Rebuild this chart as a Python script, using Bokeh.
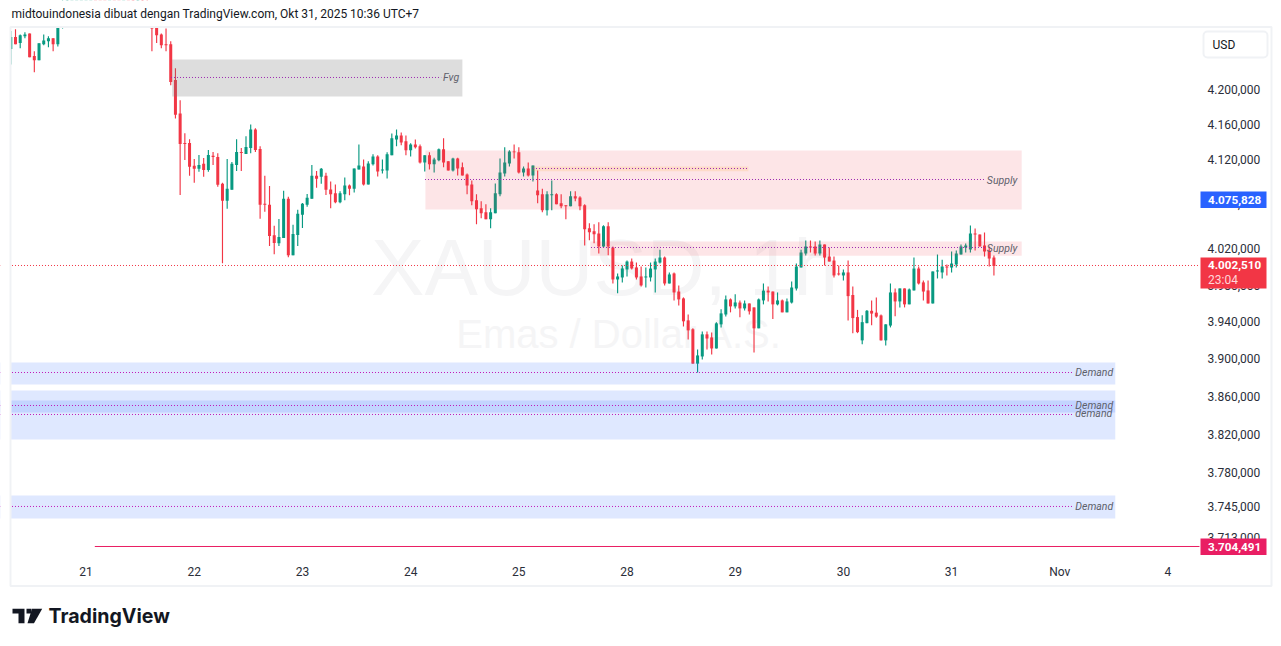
from bokeh.embed import file_html
from bokeh.models import (BoxAnnotation, ColumnDataSource, FixedTicker, Label,
                          PolyAnnotation, Range1d)
from bokeh.plotting import figure
from bokeh.resources import INLINE

# ---- candle data (1h XAUUSD) ----
opens = [
    4247, 4261, 4254, 4262, 4265, 4238.7, 4234, 4252.6, 4256, 4259.6,
    4252.6, 4285, 4300, 4315, 4330, 4338, 4345, 4358, 4365, 4360,
    4350, 4340, 4345, 4335, 4325, 4330, 4318, 4310, 4315, 4300,
    4292, 4285, 4264, 4252.6, 4252.6, 4210.8, 4172.4, 4138.5, 4138.5, 4112.7,
    4109.3, 4115, 4108, 4124, 4122.8, 4092.5, 4073.4, 4085.8, 4113.8, 4128.4,
    4126, 4133, 4154, 4131.8, 4070, 4069, 4035, 4026, 4032, 4075.7,
    4012.8, 4035.3, 4057.7, 4069, 4075.7, 4101.5, 4100.3, 4101.5, 4086, 4081.7,
    4071.7, 4080.6, 4090.6, 4087, 4108.7, 4112, 4091.7, 4114.4, 4123.4, 4107.5,
    4107.5, 4124.6, 4142.7, 4147.3, 4140.5, 4130.3, 4137, 4134.8, 4116.6, 4124.6,
    4114.4, 4118.9, 4131.4, 4117.8, 4107.5, 4121, 4111, 4103, 4091.7, 4073.9,
    4065, 4060.5, 4052.7, 4059.4, 4080.6, 4104, 4115.5, 4129, 4128, 4105.3,
    4109.8, 4101.9, 4085, 4080.6, 4062.7, 4079.5, 4080.6, 4070.6, 4068.3, 4067.2,
    4078.4, 4077.2, 4068.3, 4042.7, 4039.3, 4037, 4022.6, 4045, 4021.5, 3986.2,
    3988.4, 3997.2, 4005.9, 3999.4, 3989.5, 3988.4, 3988.4, 3997.2, 4004.8, 4010.3,
    3981.8, 3992.8, 3973, 3965.5, 3941.6, 3932, 3895, 3902.7, 3926.5, 3923.2,
    3911.3, 3937.3, 3948, 3964.4, 3956.8, 3961, 3954.6, 3960, 3955.7, 3933,
    3963.3, 3974, 3973, 3959, 3963.3, 3950.3, 3961, 3976.3, 3999.4, 4014.8,
    4022.5, 4022.5, 4014.7, 4024.7, 4011.4, 4007, 3992.8, 3990.6, 3993.9, 3969.2,
    3945.2, 3920, 3938.6, 3952, 3950, 3947, 3920, 3936, 3972, 3962.2,
    3976.4, 3959, 3974.2, 3998.2, 3983, 3974.2, 3960, 3995, 3993.9, 4000.4,
    3999.3, 4002.6, 4013.6, 4021.4, 4019.2, 4036.9, 4035.8, 4023.6, 4018, 4010.3,
]
highs = [
    4268, 4270, 4264, 4266.6, 4265, 4244.5, 4253.8, 4264, 4262, 4259.6,
    4295, 4310, 4320, 4335, 4345, 4352, 4362, 4372, 4381, 4368,
    4358, 4350, 4352, 4342, 4335, 4338, 4325, 4320, 4320, 4308,
    4300, 4295, 4265, 4271, 4256, 4224.7, 4187.5, 4149.7, 4143, 4120.5,
    4125, 4121.7, 4130.6, 4128.4, 4127, 4093.6, 4120.5, 4117, 4143, 4133,
    4146.3, 4159.8, 4155.3, 4135, 4101.5, 4090, 4045.4, 4053, 4084.6, 4078,
    4046.5, 4063.3, 4071, 4081, 4113.8, 4107, 4110.4, 4104.8, 4095, 4091.7,
    4084, 4099.6, 4091.7, 4109.8, 4137, 4120, 4117.8, 4125.7, 4124.6, 4120,
    4128, 4149.5, 4154, 4150.7, 4147.3, 4138.2, 4142.7, 4137, 4124.6, 4128,
    4122, 4132.5, 4143.9, 4117.8, 4122, 4122, 4116.6, 4104, 4096.2, 4080.6,
    4072.8, 4069.4, 4065, 4092.9, 4121, 4133.7, 4130.3, 4137, 4133.7, 4112,
    4116.6, 4113, 4107.5, 4087, 4084, 4096.2, 4081.7, 4080.6, 4068.3, 4084,
    4084, 4078.4, 4069.4, 4048.3, 4047.1, 4049.4, 4046, 4049.4, 4022.6, 3992.8,
    4001.5, 4007, 4009.2, 4004.8, 4000.5, 3999.3, 4004.8, 4009.2, 4019, 4011.4,
    3993.9, 3993.9, 3979.6, 3966.6, 3948, 3933, 3910.2, 3929.7, 3929.7, 3928.6,
    3939.5, 3953.6, 3968.8, 3965.5, 3970, 3963.3, 3963.3, 3960, 3955.7, 3965.5,
    3981.8, 3978.5, 3973, 3972, 3964.4, 3965.5, 3983.9, 4003.7, 4019, 4029.2,
    4029.2, 4028, 4029.1, 4024.7, 4021.4, 4011.4, 4001.5, 3997.1, 4007, 3978.6,
    3953, 3947.3, 3953, 3963.3, 3966.6, 3948, 3937.3, 3981.8, 3976.4, 3976.4,
    3976.4, 3976.4, 4010.3, 4000.4, 3985.1, 3985.1, 3995, 4013.6, 4008, 4002.6,
    4017, 4018, 4024.7, 4025.8, 4045.8, 4042.5, 4035.8, 4038, 4022.5, 4012.5,
]
lows = [
    4229, 4252.6, 4248, 4259.6, 4237.5, 4220, 4234, 4251.5, 4249, 4244.5,
    4250, 4271, 4290, 4310, 4322, 4330, 4340, 4350, 4355, 4345,
    4335, 4325, 4330, 4318, 4310, 4312, 4300, 4295, 4290, 4280,
    4244.5, 4254, 4248, 4244.5, 4205, 4166.6, 4080, 4119.4, 4101.5, 4093.6,
    4106, 4100.3, 4106, 4113.8, 4089, 4003.9, 4064.4, 4085.8, 4107, 4107,
    4126, 4127, 4128.4, 4053.2, 4061, 4023, 4014, 4023, 4032, 4010.6,
    4012.8, 4023, 4043, 4066.7, 4075.7, 4088, 4092.5, 4080, 4065, 4070.6,
    4070.6, 4074, 4079.5, 4082.8, 4108.7, 4090.6, 4091.7, 4113, 4100.7, 4104,
    4098.5, 4124.6, 4134.8, 4136, 4124.6, 4123.4, 4132.5, 4115.5, 4106.4, 4108.7,
    4105.3, 4117.8, 4111, 4107.5, 4106.4, 4101.9, 4101.9, 4080.6, 4068.3, 4047.2,
    4053.8, 4052.7, 4042.7, 4059.4, 4078.4, 4100.7, 4112, 4121, 4104, 4100.7,
    4100.7, 4095, 4070.6, 4060.5, 4057, 4062.7, 4069.4, 4065, 4052.7, 4067.2,
    4072.8, 4062.7, 4023.7, 4029.3, 4026, 4014.8, 4021.5, 4012.7, 3981.9, 3971,
    3983, 3989.5, 3997.2, 3986.2, 3978.5, 3977.4, 3984, 3972, 4003.7, 3979.6,
    3981.8, 3963.3, 3957.9, 3935, 3921, 3895, 3885.4, 3899.5, 3910.2, 3904.8,
    3911.3, 3934, 3945.8, 3950.3, 3954.6, 3944.9, 3952.4, 3948, 3907, 3933,
    3959, 3962.2, 3943, 3957.9, 3950.3, 3950.3, 3960, 3974, 3999.4, 4012.5,
    4015.9, 4012.5, 4012.5, 4001.5, 4005.9, 3988.4, 3990.6, 3985.1, 3941.6, 3927.8,
    3927.8, 3915.7, 3938.6, 3936.4, 3944.5, 3920, 3914.6, 3934, 3946, 3955.7,
    3955.7, 3959, 3974.2, 3980.7, 3963.3, 3960, 3960, 3987.3, 3987.3, 3990.6,
    3993.9, 3999.3, 4013.6, 4015.8, 4015.8, 4018, 4022.5, 4011.4, 4000.4, 3990.6,
]
closes = [
    4261, 4252.6, 4263, 4264, 4237.5, 4234, 4253.8, 4257, 4259.6, 4252.6,
    4290, 4300, 4315, 4330, 4338, 4345, 4358, 4365, 4360, 4350,
    4340, 4345, 4335, 4325, 4330, 4318, 4310, 4315, 4300, 4292,
    4271, 4263, 4251.5, 4251.5, 4208.5, 4171, 4137.4, 4137.4, 4111.6, 4109.3,
    4113.8, 4108, 4125, 4122.8, 4091.4, 4073.4, 4087, 4115, 4128.4, 4127.3,
    4134, 4154, 4130.6, 4069, 4069, 4034, 4026.3, 4033, 4075.7, 4012.8,
    4036.4, 4058.8, 4070, 4076.8, 4101.5, 4098, 4109.3, 4085.8, 4080.6, 4071.7,
    4081.7, 4090.6, 4087, 4109.8, 4113, 4091.7, 4115.5, 4123.4, 4106.4, 4108.7,
    4125.7, 4143.9, 4147.3, 4139.3, 4130.3, 4137, 4133.7, 4116.6, 4124.6, 4114.4,
    4120, 4131.4, 4116.6, 4107.5, 4121, 4109.8, 4101.9, 4090.6, 4072.8, 4063.9,
    4059.4, 4052.7, 4060.5, 4081.7, 4105.3, 4116.6, 4129, 4128, 4105.3, 4109.8,
    4101.9, 4113, 4079.5, 4062.7, 4080.6, 4080.6, 4069.4, 4067.2, 4067.2, 4078.4,
    4076, 4067.2, 4041.5, 4038.2, 4036, 4022.6, 4045, 4022.6, 3986.2, 3989.5,
    3998.3, 4005.9, 3998.3, 3988.4, 3979.7, 3989.5, 3998.2, 4005.9, 4010.3, 3981.8,
    3991.7, 3972, 3964.4, 3940.6, 3930.8, 3895, 3903.8, 3926.5, 3922, 3911.3,
    3938.4, 3949.2, 3964.4, 3956.8, 3961.1, 3954.6, 3960, 3951.4, 3933, 3964.4,
    3974, 3972, 3959, 3963.3, 3950.3, 3962.2, 3977.4, 4000.4, 4015.9, 4022.5,
    4021.4, 4014.7, 4024.7, 4010.3, 4005.9, 3990.6, 3991.7, 3993.9, 3968, 3944.1,
    3928.9, 3939.7, 3952, 3949, 3945.7, 3920, 3937.3, 3972, 3962.2, 3976.4,
    3959, 3975.3, 3998.2, 3981.8, 3973, 3960, 3995, 3996.1, 4000.4, 3999.3,
    4003.7, 4014.7, 4022.5, 4023.6, 4036.9, 4035.8, 4022.5, 4017, 4009.2, 4001.0,
]

price_ticks = [4200, 4160, 4120, 4070, 4020, 3980, 3940, 3900, 3860, 3820, 3780, 3745, 3713]
price_tick_labels = ["4.200,000", "4.160,000", "4.120,000", "4.070,000", "4.020,000", "3.980,000",
                     "3.940,000", "3.900,000", "3.860,000", "3.820,000", "3.780,000", "3.745,000",
                     "3.713,000"]
date_ticks = [16, 39, 62, 85, 108, 131, 154, 177, 200, 223, 246]
date_tick_labels = ["21", "22", "23", "24", "25", "28", "29", "30", "31", "Nov", "4"]

# zones: left bar, right bar, top price, bottom price
supply_zones = [(88.15, 214.9, 4130.1, 4063.6), (123.2, 214.9, 4028, 4012.4)]
fvg_zones = [(34.3, 96.0, 4234.6, 4192)]
orange_zones = [(110.9, 156.8, 4112, 4106.7)]
demand_zones = [(-5, 234.8, 3896.3, 3872.7), (-5, 234.8, 3866.3, 3814.5),
                (-5, 234.8, 3855.7, 3843), (-5, 234.8, 3756.3, 3732.6)]
# levels: left bar, right bar, price
purple_levels = [(34.056, 91.5, 4213.86), (88.052, 207.2, 4097.3), (111.012, 156.8, 4109.72), (123.343, 207.2, 4021.41)]
demand_levels = [(-4.8476, 225.7, 3885.52), (-4.8476, 225.7, 3850.43), (-4.8476, 225.7, 3840.93), (-4.8476, 225.7, 3745.01)]
last_price = 4001.55
pink_level = (17.86, 252.7, 3704.01)
texts = [("Fvg", 91.9, 4213.5), ("Supply", 207.5, 4096.5), ("Supply", 207.5, 4020.5),
         ("Demand", 226.3, 3885), ("Demand", 226.3, 3850), ("demand", 226.3, 3842), ("Demand", 226.3, 3745)]

GREEN, RED = "#089981", "#f23645"
FONT = "Roboto"
PANE_RIGHT_BAR = 252.7     # bar position of the price scale's left edge
PANE_BOTTOM_PRICE = 3692.8  # price at the time scale's top edge

p = figure(width=1275, height=640, output_backend="svg", toolbar_location=None,
           x_range=Range1d(-2.19, 268.86), y_range=Range1d(3609.5, 4304.0),
           y_axis_type="log", y_axis_location="right",
           min_border_left=0, min_border_top=0, min_border_right=0, min_border_bottom=0,
           outline_line_color=None, background_fill_color="white", border_fill_color="white")
p.grid.visible = False

p.yaxis.ticker = FixedTicker(ticks=price_ticks)
p.yaxis.major_label_overrides = dict(zip(price_ticks, price_tick_labels))
p.xaxis.ticker = FixedTicker(ticks=date_ticks)
p.xaxis.major_label_overrides = dict(zip(date_ticks, date_tick_labels))
p.yaxis[0].fixed_location = PANE_RIGHT_BAR
p.xaxis[0].fixed_location = PANE_BOTTOM_PRICE
for ax in (p.xaxis[0], p.yaxis[0]):
    ax.axis_line_color = None
    ax.major_tick_line_color = None
    ax.minor_tick_line_color = None
    ax.major_label_text_font = FONT
    ax.major_label_text_font_size = "12px"
    ax.major_label_text_color = "#2a2e39"
p.yaxis.major_label_standoff = 2
p.xaxis.major_label_standoff = 1

# watermark
for txt, x, y, size in [("XAUUSD, 1h", 76.6, 3999, "80px"), ("Emas / Dollar A.S.", 94.7, 3927, "40px")]:
    p.add_layout(Label(x=x, y=y, text=txt, text_font="Liberation Sans", text_font_size=size,
                       text_color="#f5f5f6", text_baseline="middle", level="underlay"))

# candles
idx = list(range(len(opens)))
colors = [GREEN if c >= o else RED for o, c in zip(opens, closes)]
src = ColumnDataSource(dict(x=idx, o=opens, h=highs, l=lows, c=closes,
                            top=[max(o, c) for o, c in zip(opens, closes)],
                            bottom=[min(o, c) for o, c in zip(opens, closes)], color=colors))
p.segment("x", "h", "x", "l", source=src, line_color="color", line_width=1.15)
p.vbar("x", 0.64, "top", "bottom", source=src, fill_color="color", line_color=None)


def zones(rows, color, alpha):
    for left, right, top, bottom in rows:
        p.quad(left=[left], right=[right], top=[top], bottom=[bottom],
               fill_color=color, fill_alpha=alpha, line_color=None)


zones(fvg_zones, "#787878", 0.25)
zones(supply_zones, RED, 0.13)
zones(orange_zones, "#ff9800", 0.13)
zones(demand_zones, "#2962ff", 0.15)


def levels(rows, color, dash=(1, 2)):
    for left, right, price in rows:
        p.line([left, right], [price, price], line_color=color, line_width=1, line_dash=list(dash))


levels(purple_levels, "#9c27b0")
levels(demand_levels, "#c218b8")
levels([(-4.8476, PANE_RIGHT_BAR, last_price)], RED)
p.line([pink_level[0], pink_level[1]], [pink_level[2]] * 2, line_color="#e91e63", line_width=1)

for txt, x, y in texts:
    p.add_layout(Label(x=x, y=y, text=txt, text_font=FONT, text_font_size="10.5px",
                       text_font_style="italic", text_color="#5d606b", text_baseline="middle"))


def box(l, t, r, b, fill=None, line=None, lw=1, radius=0):
    p.add_layout(BoxAnnotation(left=l, right=r, top=t, bottom=b,
                               left_units="canvas", right_units="canvas",
                               top_units="canvas", bottom_units="canvas",
                               fill_color=fill, fill_alpha=1 if fill else 0,
                               line_color=line, line_width=lw, line_alpha=1 if line else 0,
                               border_radius=radius, level="annotation"))


def text(x, y, s, color="#131722", size="12px", style="normal", font=FONT, baseline="middle"):
    p.add_layout(Label(x=x, y=y, x_units="canvas", y_units="canvas", text=s, text_font=font,
                       text_color=color, text_font_size=size, text_font_style=style,
                       text_baseline=baseline, level="annotation"))


# masks that end the price pane, frame, header, USD box
box(-5, -5, 1280, 26, fill="white")
box(-5, -5, 10, 645, fill="white")
box(10, 26.5, 1271, 585.5, line="#f0f2f5", lw=2)
box(1203, 31, 1267, 57, fill="white", line="#f0f2f5", lw=2, radius=4)
text(1212, 44.5, "USD")
text(11, 13.5, "midtouindonesia dibuat dengan TradingView.com, Okt 31, 2025 10:36 UTC+7")

# price tags
box(1200, 191, 1266, 207.5, fill="#2962ff")
text(1207.5, 199, "4.075,828", color="white", style="bold", size="11.7px")
box(1200, 257, 1266, 288, fill=RED)
text(1207.5, 264.8, "4.002,510", color="white", style="bold", size="11.7px")
text(1207.5, 279, "23:04", color="#ffd5d9")
box(1200, 538, 1266, 554.5, fill="#e91e63")
text(1207.5, 546, "3.704,491", color="white", style="bold", size="11.7px")

# logo
for xs, ys in [([12, 24, 24, 18, 18, 12], [608.3, 608.3, 622.7, 622.7, 613, 613]),
               ([31.5, 41.7, 33.5, 27], [608.3, 608.3, 622.7, 622.7]),
               ([26, 31, 31, 26], [608.3, 608.3, 613, 613])]:
    p.add_layout(PolyAnnotation(xs=xs, ys=ys, xs_units="canvas", ys_units="canvas",
                                fill_color="#131722", fill_alpha=1, line_color=None, level="annotation"))
text(48, 615.5, "TradingView", color="#131722", size="19.6px", style="bold", font="Inter")

open("out.html", "w").write(file_html(p, INLINE))
